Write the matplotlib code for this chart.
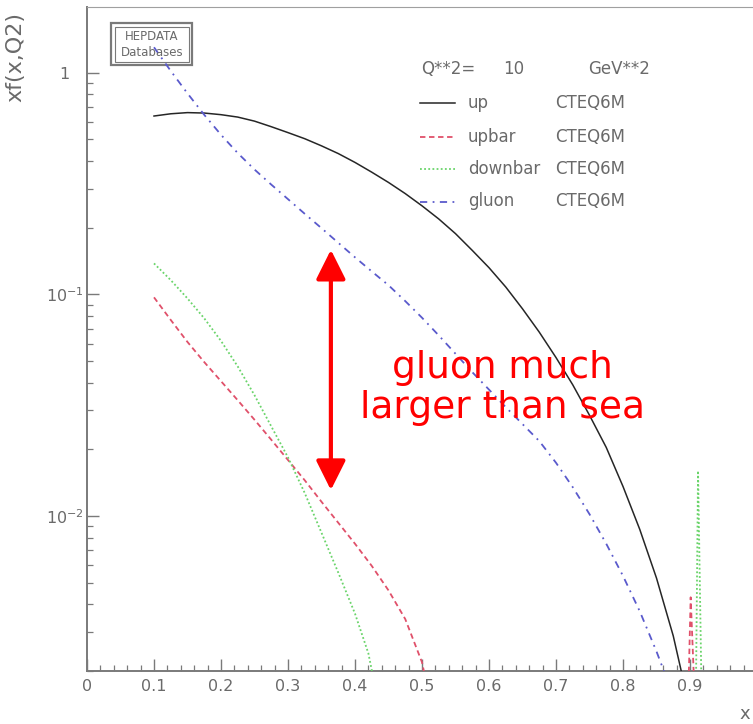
import numpy as np
import matplotlib
matplotlib.use('Agg')
import matplotlib.pyplot as plt
from matplotlib.patches import Rectangle
from matplotlib.ticker import FixedLocator, FuncFormatter, LogLocator, MultipleLocator, NullFormatter

nan = np.nan

# CTEQ6M parton distributions x*f(x, Q^2) at Q^2 = 10 GeV^2
up_x = [0.100, 0.125, 0.150, 0.175, 0.200, 0.225, 0.250, 0.275, 0.300, 0.325, 0.350,
        0.375, 0.400, 0.425, 0.450, 0.475, 0.500, 0.525, 0.550, 0.575, 0.600, 0.625,
        0.650, 0.675, 0.700, 0.725, 0.750, 0.775, 0.800, 0.825, 0.850, 0.875, 0.890]
up_y = [0.638, 0.653, 0.661, 0.658, 0.647, 0.631, 0.605, 0.571, 0.537, 0.504, 0.468,
        0.432, 0.394, 0.356, 0.320, 0.285, 0.251, 0.219, 0.188, 0.158, 0.132, 0.108,
        0.0861, 0.0676, 0.0519, 0.0391, 0.0285, 0.0204, 0.0136, 0.00871, 0.00525,
        0.00288, 0.00182]

upbar_x = [0.100, 0.125, 0.150, 0.175, 0.200, 0.225, 0.250, 0.275, 0.300, 0.325, 0.350,
           0.375, 0.400, 0.425, 0.450, 0.475, 0.500, 0.505,
           nan, 0.898, 0.901, 0.906]
upbar_y = [0.0970, 0.0767, 0.0610, 0.0495, 0.0406, 0.0333, 0.0272, 0.0221, 0.0179, 0.0145,
           0.0116, 0.00933, 0.00750, 0.00596, 0.00462, 0.00343, 0.00219, 0.00186,
           nan, 0.0018, 0.0043, 0.0018]

downbar_x = [0.100, 0.125, 0.150, 0.175, 0.200, 0.225, 0.250, 0.275, 0.300, 0.325, 0.350,
             0.375, 0.400, 0.420, 0.428,
             nan, 0.909, 0.912, 0.917]
downbar_y = [0.138, 0.116, 0.0959, 0.0780, 0.0617, 0.0473, 0.0351, 0.0254, 0.0184, 0.0127,
             0.00841, 0.00556, 0.00363, 0.00240, 0.00182,
             nan, 0.0018, 0.016, 0.0018]

gluon_x = [0.100, 0.125, 0.150, 0.175, 0.200, 0.225, 0.250, 0.275, 0.300, 0.325, 0.350,
           0.375, 0.400, 0.425, 0.450, 0.475, 0.500, 0.525, 0.550, 0.575, 0.600, 0.625,
           0.650, 0.675, 0.700, 0.725, 0.750, 0.775, 0.800, 0.825, 0.850, 0.865]
gluon_y = [1.303, 1.019, 0.807, 0.646, 0.525, 0.434, 0.366, 0.313, 0.269, 0.231, 0.199,
           0.171, 0.147, 0.127, 0.110, 0.0933, 0.0785, 0.0653, 0.0540, 0.0446, 0.0372,
           0.0310, 0.0260, 0.0218, 0.0174, 0.0135, 0.0102, 0.0075, 0.00537, 0.00372,
           0.00245, 0.00186]

names = ['up', 'upbar', 'downbar', 'gluon']
pdf_set = 'CTEQ6M'
q2_value = '10'

colors = ['#262626', '#e0506a', '#6ad46a', '#5a5acc']
styles = ['-', (0, (3, 2)), (0, (1, 1.3)), (0, (4, 3, 1, 3))]
widths = [1.1, 1.3, 1.3, 1.3]

W, H = 753, 724
grey = '#6a6a6a'
plt.rcParams['font.family'] = 'DejaVu Sans'

fig = plt.figure(figsize=(W / 100, H / 100), dpi=100)
ax = fig.add_axes([87 / W, 1 - 671 / H, 670 / W, 664 / H])


def pos(x, y):
    # pixel position -> axes fraction
    return (x - 87) / 670, (671 - y) / 664


series = [(up_x, up_y), (upbar_x, upbar_y), (downbar_x, downbar_y), (gluon_x, gluon_y)]
for (xs, ys), c, ls, lw in zip(series, colors, styles, widths):
    ax.plot(xs, ys, color=c, ls=ls, lw=lw, zorder=3)

ax.set_yscale('log')
ax.set_xlim(0, 1.0)
ax.set_ylim(0.002, 1.98)

# axes styling
for s in ['left', 'bottom']:
    ax.spines[s].set_color('#7a7a7a')
    ax.spines[s].set_linewidth(1.4)
ax.spines['top'].set_color('#a0a0a0')
ax.spines['top'].set_linewidth(0.8)
ax.spines['right'].set_visible(False)

ax.xaxis.set_major_locator(MultipleLocator(0.1))
ax.xaxis.set_minor_locator(MultipleLocator(0.02))
ax.xaxis.set_major_formatter(FuncFormatter(
    lambda v, p: '0' if abs(v) < 1e-9 else ('' if v > 0.95 else f'{v:g}')))
ax.yaxis.set_major_locator(FixedLocator([0.01, 0.1, 1]))
ax.yaxis.set_minor_locator(LogLocator(base=10, subs=np.arange(2, 10)))
ax.yaxis.set_minor_formatter(NullFormatter())
ax.yaxis.set_major_formatter(FuncFormatter(
    lambda v, p: '1' if abs(v - 1) < 1e-9 else r'$10^{%d}$' % round(np.log10(v))))

ax.tick_params(which='both', direction='in', colors='#7a7a7a', labelcolor=grey,
               top=False, right=False)
ax.tick_params(which='major', length=8.6, width=1.0, labelsize=11.5)
ax.tick_params(which='minor', length=4.3, width=0.9)
ax.tick_params(axis='x', pad=6)
ax.tick_params(axis='y', pad=16)
plt.setp(ax.get_yticklabels(), ha='center')

ax.set_xlabel('x', color=grey, fontsize=13, va='center')
ax.xaxis.set_label_coords(*pos(745, 714))
ax.set_ylabel('xf(x,Q2)', color=grey, fontsize=16)
ax.yaxis.set_label_coords(*pos(25, 57))

# legend block
tf = ax.transAxes
hy = pos(0, 69)[1]
ax.text(pos(421, 0)[0], hy, 'Q**2=', transform=tf, color=grey, fontsize=12, va='center')
ax.text(pos(503, 0)[0], hy, q2_value, transform=tf, color=grey, fontsize=12, va='center')
ax.text(pos(588, 0)[0], hy, 'GeV**2', transform=tf, color=grey, fontsize=12, va='center')
row_y = [103, 136.5, 168.5, 201.5]
for name, c, ls, lw, ry in zip(names, colors, styles, widths, row_y):
    x0, y0 = pos(420, ry)
    x1, _ = pos(455, ry)
    ax.plot([x0, x1], [y0, y0], color=c, ls=ls, lw=lw, transform=tf, clip_on=False)
    ax.text(pos(468, 0)[0], y0, name, transform=tf, color=grey, fontsize=12, va='center')
    ax.text(pos(555, 0)[0], y0, pdf_set, transform=tf, color=grey, fontsize=12, va='center')

# HEPDATA badge
bx, by = pos(111, 65)
ax.add_patch(Rectangle((bx, by), 81 / 670, 42 / 664, transform=tf, fill=False,
                       ec='#7a7a7a', lw=1.6, zorder=2))
ix, iy = pos(114.5, 61.5)
ax.add_patch(Rectangle((ix, iy), 74 / 670, 35 / 664, transform=tf, fill=False,
                       ec='#7a7a7a', lw=0.8, zorder=2))
ax.text(*pos(152, 36), 'HEPDATA', transform=tf, color=grey, fontsize=8.5,
        ha='center', va='center')
ax.text(*pos(152, 52), 'Databases', transform=tf, color=grey, fontsize=8.5,
        ha='center', va='center')

# annotation
ax.annotate('', xy=(0.364, 0.0131), xytext=(0.364, 0.159),
            arrowprops=dict(arrowstyle='<|-|>,head_length=0.9,head_width=0.45',
                            mutation_scale=20, color='#ff0000', lw=3,
                            shrinkA=0, shrinkB=0), zorder=5)
ax.text(*pos(502, 388), 'gluon much\nlarger than sea', transform=tf,
        ha='center', va='center', color='#ff0000', fontsize=27, linespacing=1.15, zorder=5)

fig.savefig('out.png', dpi=100)
